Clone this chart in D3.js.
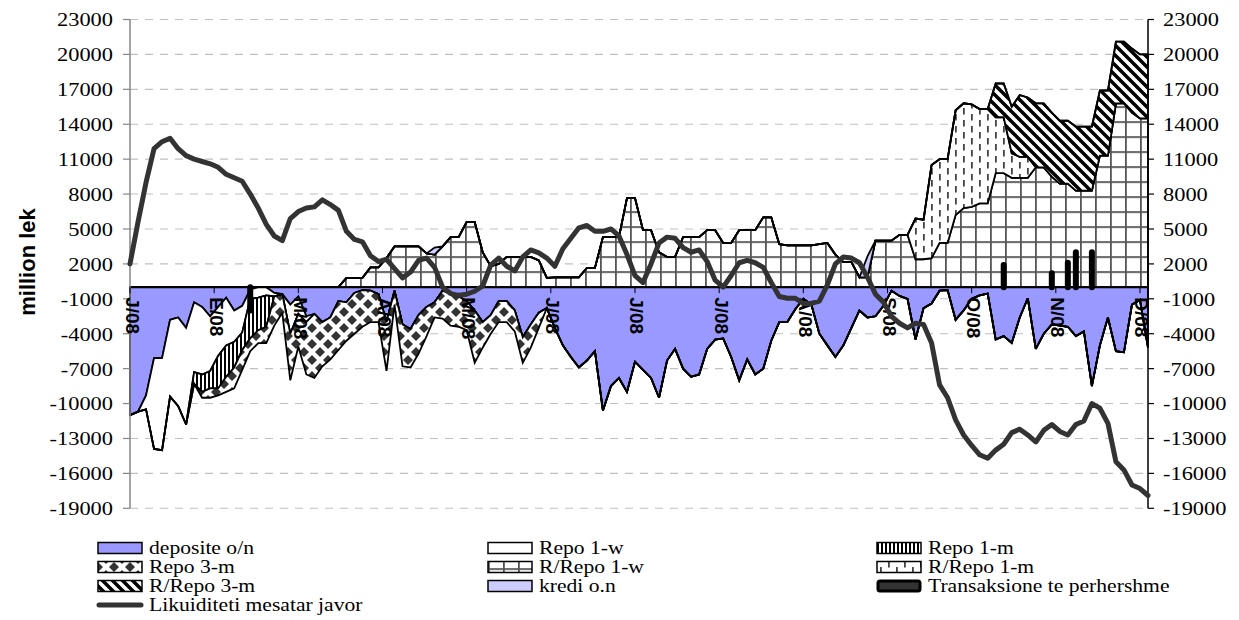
<!DOCTYPE html>
<html><head><meta charset="utf-8">
<script src="https://cdn.jsdelivr.net/npm/d3@7"></script>
<style>html,body{margin:0;padding:0;background:#fff;}svg{display:block;}</style>
</head><body>
<svg id="chart" width="1239" height="620"></svg>
<script>
// ---------------- DATA ----------------
const monthLabels = ["J/08","E/08","M/08","A/08","M/08","J/08","J/08","J/08","A/08","S/08","O/08","N/08","D/08"];
const labelEvery = 21;   // business days between axis labels
const dayStep = 2;       // business days between data points
const yTicks = [23000,20000,17000,14000,11000,8000,5000,2000,-1000,-4000,-7000,-10000,-13000,-16000,-19000];

const deposits = [
-11000,-10700,-9300,-6100,-6100,-2800,-2600,-3500,-1300,-1700,
-2500,-1700,-900,-2000,-1600,-200,0,0,-500,-600,
-1500,-800,-2500,-2300,-3000,-2600,-1200,-1300,-500,-250,
-300,-600,-3000,-300,-3200,-3600,-2400,-1700,-1300,-300,
-600,-800,-1200,-2000,-3000,-2400,-1200,-1200,-2000,-4300,
-3200,-2200,-1800,-3500,-5000,-6000,-6900,-6300,-5500,-10600,
-8500,-7800,-9000,-6400,-7100,-7800,-9500,-6300,-5300,-7000,
-7700,-7500,-5300,-4500,-4400,-6000,-8000,-6200,-7500,-7000,
-4600,-3000,-3000,-1900,-1000,-1500,-4000,-5000,-6000,-5000,
-3500,-2000,-2600,-2500,-1600,-300,-750,-1000,-4500,-1800,
-1400,-300,-250,-2800,-2000,-1000,-700,-550,-4500,-4200,
-4800,-2600,-950,-5300,-4000,-3200,-3300,-3400,-4200,-3800,
-8500,-5000,-2600,-5500,-5600,-1500,-1100,-5200];

const repo1w = [
0,0,-1200,-7800,-7900,-6600,-7600,-8300,-6000,-5800,
-4700,-4200,-4100,-2700,-2300,-800,-900,-700,-300,0,
-2500,-1500,-500,0,0,0,0,0,0,0,
0,0,0,0,0,0,0,0,0,0,
0,0,0,0,0,0,0,0,0,0,
0,0,0,0,0,0,0,0,0,0,
0,0,0,0,0,0,0,0,0,0,
0,0,0,0,0,0,0,0,0,0,
0,0,0,0,0,0,0,0,0,0,
0,0,0,0,0,0,0,0,0,0,
0,0,0,0,0,0,0,0,0,0,
0,0,0,0,0,0,0,0,0,0,
0,0,0,0,0,0,0,0];

const repo1m = [
0,0,0,0,0,0,0,0,-1000,-1500,
-1500,-2800,-2700,-2200,-1500,-3400,-2800,-2700,0,0,
0,0,0,0,0,0,0,0,0,0,
0,0,0,0,0,0,0,0,0,0,
0,0,0,0,0,0,0,0,0,0,
0,0,0,0,0,0,0,0,0,0,
0,0,0,0,0,0,0,0,0,0,
0,0,0,0,0,0,0,0,0,0,
0,0,0,0,0,0,0,0,0,0,
0,0,0,0,0,0,0,0,0,0,
0,0,0,0,0,0,0,0,0,0,
0,0,0,0,0,0,0,0,0,0,
0,0,0,0,0,0,0,0];

const repo3m = [
0,0,0,0,0,0,0,0,0,-500,
-800,-600,-1300,-1800,-1700,-1100,-1100,-1400,-2500,-1600,
-4000,-2800,-4500,-5500,-3800,-3600,-4200,-3300,-3500,-3150,
-2700,-2400,-4200,-1200,-3600,-3300,-3300,-2500,-1300,-2400,
-2700,-2600,-2500,-4500,-2200,-1600,-1800,-1800,-1800,-2200,
-2000,-1300,0,0,0,0,0,0,0,0,
0,0,0,0,0,0,0,0,0,0,
0,0,0,0,0,0,0,0,0,0,
0,0,0,0,0,0,0,0,0,0,
0,0,0,0,0,0,0,0,0,0,
0,0,0,0,0,0,0,0,0,0,
0,0,0,0,0,0,0,0,0,0,
0,0,0,0,0,0,0,0];

const rRepo1w = [
0,0,0,0,0,0,0,0,0,0,
0,0,0,0,0,0,0,0,0,0,
0,0,0,0,0,0,0,800,800,800,
1700,1700,2500,3500,3500,3500,3500,2900,2800,3500,
4300,4300,5600,5600,3000,1800,2000,2600,2600,2600,
2600,2300,800,850,850,850,850,1650,1650,4300,
4300,4300,7650,7650,4900,4900,3000,2600,2600,4300,
4300,4300,4900,4900,3800,3800,4900,4900,4900,6000,
6000,3700,3600,3600,3600,3600,3700,3800,2800,2150,
2150,850,850,4000,4000,4000,4500,4500,2400,2400,
2500,3800,3800,6200,6800,6900,7200,7200,9800,9800,
9400,9400,9400,10300,10300,9500,8900,8900,8300,8300,
8300,11300,11300,15800,15800,15000,14500,14500];

const rRepo1m = [
0,0,0,0,0,0,0,0,0,0,
0,0,0,0,0,0,0,0,0,0,
0,0,0,0,0,0,0,0,0,0,
0,0,0,0,0,0,0,0,0,0,
0,0,0,0,0,0,0,0,0,0,
0,0,0,0,0,0,0,0,0,0,
0,0,0,0,0,0,0,0,0,0,
0,0,0,0,0,0,0,0,0,0,
0,0,0,0,0,0,0,0,0,0,
0,0,0,0,0,0,0,0,3500,3400,
8000,7200,7200,9000,9000,8800,8100,8100,4800,4800,
2100,1800,1800,0,0,0,0,0,0,0,
0,0,0,0,0,0,0,0];

const rRepo3m = [
0,0,0,0,0,0,0,0,0,0,
0,0,0,0,0,0,0,0,0,0,
0,0,0,0,0,0,0,0,0,0,
0,0,0,0,0,0,0,0,0,0,
0,0,0,0,0,0,0,0,0,0,
0,0,0,0,0,0,0,0,0,0,
0,0,0,0,0,0,0,0,0,0,
0,0,0,0,0,0,0,0,0,0,
0,0,0,0,0,0,0,0,0,0,
0,0,0,0,0,0,0,0,0,0,
0,0,0,0,0,0,0,0,2900,2900,
4000,5300,5100,5500,5500,5500,5400,5400,5500,5500,
5500,5600,5600,5300,5300,5500,5500,5500];

const krediON = [
0,0,0,0,0,0,0,0,0,0,
0,0,0,0,0,0,0,0,0,0,
0,0,0,0,0,0,0,0,0,0,
0,0,0,0,0,0,0,0,600,0,
0,0,0,0,0,0,0,0,0,0,
0,0,0,0,0,0,0,0,0,0,
0,0,0,0,0,0,0,0,0,0,
0,0,0,0,0,0,0,0,0,0,
0,0,0,0,0,0,0,0,0,0,
0,0,1800,0,0,0,0,0,0,0,
0,0,0,0,0,0,0,0,0,0,
0,0,0,0,0,0,0,0,0,0,
0,0,0,0,0,0,0,0];

const transaksione = [
0,0,0,0,0,0,0,0,0,0,
0,0,0,0,0,-2000,0,0,0,0,
0,0,0,0,0,0,0,0,0,0,
0,0,0,0,0,0,0,0,0,0,
0,0,0,0,0,0,0,0,0,0,
0,0,0,0,0,0,0,0,0,0,
0,0,0,0,0,0,0,0,0,0,
0,0,0,0,0,0,0,0,0,0,
0,0,0,0,0,0,0,0,0,0,
0,0,0,0,0,0,0,0,0,0,
0,0,0,0,0,0,0,0,0,1900,
0,0,0,0,0,1200,0,2100,3000,0,
3000,0,0,0,0,0,0,0];

const likuiditeti = [
2000,5600,9000,11900,12500,12800,11900,11300,11000,10800,
10600,10300,9700,9400,9100,8000,6800,5400,4400,4000,
5900,6500,6800,6900,7500,7100,6600,4800,4100,3900,
2700,2200,2400,1600,800,1300,2300,2500,1700,0,
-550,-700,-600,-350,100,1900,2500,1800,1400,2600,
3200,2950,2500,1800,3300,4200,5100,5300,4800,4800,
5000,4400,2800,1000,400,2000,3800,4300,4200,3400,
3000,3200,2200,600,0,1000,2100,2300,2100,1700,
400,-800,-950,-950,-1400,-1400,-1200,200,2000,2600,
2500,2100,850,-600,-1300,-2500,-3100,-3500,-3100,-3200,
-4800,-8400,-9500,-11400,-12700,-13600,-14400,-14700,-14000,-13500,
-12500,-12200,-12700,-13300,-12300,-11800,-12400,-12700,-11800,-11500,
-10000,-10400,-11700,-15000,-15700,-17000,-17300,-17900];

const legendLabels = ["deposite o/n","Repo 1-w","Repo 1-m","Repo 3-m","R/Repo 1-w","R/Repo 1-m","R/Repo 3-m","kredi o.n","Transaksione te perhershme","Likuiditeti mesatar javor"];

// ---------------- CHART ----------------
const svg = d3.select("#chart");
const L = 130, R = 1148;
const x = d3.scaleLinear().domain([0, (deposits.length - 1) * dayStep]).range([L, R]);
const y = d3.scaleLinear().domain([-19000, 23000]).range([508.3, 19.5]);

const rows = deposits.map((v, i) => ({
  day: i * dayStep,
  dep: v, r1w: repo1w[i], r1m: repo1m[i], r3m: repo3m[i],
  rr1w: rRepo1w[i], rr1m: rRepo1m[i], rr3m: rRepo3m[i], kredi: krediON[i]
}));

// patterns
const defs = svg.append("defs");
function pat(id, w, h, px, py) {
  const p = defs.append("pattern").attr("id", id).attr("patternUnits", "userSpaceOnUse")
    .attr("width", w).attr("height", h).attr("x", px || 0).attr("y", py || 0);
  p.append("rect").attr("width", w).attr("height", h).attr("fill", "#fff");
  return p;
}
const pV = pat("pV", 4, 4);
pV.append("rect").attr("width", 2).attr("height", 4).attr("fill", "#000");
const pD = pat("pD", 16, 16);
pD.append("path").attr("fill", "#333")
  .attr("d", "M8,3L13,8L8,13L3,8Z M0,-5L5,0L0,5L-5,0Z M16,-5L21,0L16,5L11,0Z M0,11L5,16L0,21L-5,16Z M16,11L21,16L16,21L11,16Z");
const pG = pat("pG", 15, 15, 0, y(0) - 1);
pG.append("rect").attr("width", 1.8).attr("height", 15).attr("fill", "#555");
pG.append("rect").attr("width", 15).attr("height", 1.8).attr("fill", "#555");
const pM = pat("pM", 16, 12);
[[3, 0], [11, 6], [11, -6]].forEach(([a, b]) => pM.append("rect").attr("x", a).attr("y", b).attr("width", 1.8).attr("height", 6.5).attr("fill", "#444"));
const pS = pat("pS", 10, 10);
pS.append("path").attr("d", "M-5,5L5,15M0,0L10,10M5,-5L15,5").attr("stroke", "#000").attr("stroke-width", 3.5);

const fills = {
  dep: "#9999FF", r1w: "#FFFFFF", r1m: "url(#pV)", r3m: "url(#pD)",
  rr1w: "url(#pG)", rr1m: "url(#pM)", rr3m: "url(#pS)", kredi: "#CCCCFF"
};

// gridlines
svg.append("g").selectAll("line").data(yTicks).join("line")
  .attr("x1", L).attr("x2", R).attr("y1", d => y(d)).attr("y2", d => y(d))
  .attr("stroke", "#c0c0c0").attr("stroke-width", 1.1).attr("stroke-dasharray", "8,7");

// stacks
const negStack = d3.stack().keys(["dep", "r1w", "r1m", "r3m"]).offset(d3.stackOffsetNone)(rows);
const posStack = d3.stack().keys(["rr1w", "rr1m", "rr3m", "kredi"]).offset(d3.stackOffsetNone)(rows);
const area = d3.area().x(d => x(d.data.day)).y0(d => y(d[0])).y1(d => y(d[1]));
const gA = svg.append("g");
gA.selectAll("path").data(negStack.concat(posStack)).join("path")
  .attr("d", area).attr("fill", s => fills[s.key])
  .attr("stroke", "#000").attr("stroke-width", 1.8).attr("stroke-linejoin", "miter").attr("stroke-miterlimit", 3);

// baseline
svg.append("line").attr("x1", L).attr("x2", R).attr("y1", y(0)).attr("y2", y(0))
  .attr("stroke", "#000").attr("stroke-width", 2);

// transaksione bars
svg.append("g").selectAll("line").data(rows.map((r, i) => ({ day: r.day, v: transaksione[i] })).filter(d => d.v !== 0))
  .join("line").attr("x1", d => x(d.day)).attr("x2", d => x(d.day))
  .attr("y1", y(0)).attr("y2", d => y(d.v))
  .attr("stroke", "#000").attr("stroke-width", 6).attr("stroke-linecap", "round");

// axes lines
svg.append("line").attr("x1", L).attr("x2", L).attr("y1", y(23000)).attr("y2", y(-19000)).attr("stroke", "#868686").attr("stroke-width", 1.5);
svg.append("line").attr("x1", R).attr("x2", R).attr("y1", y(23000)).attr("y2", y(-19000)).attr("stroke", "#000").attr("stroke-width", 1.5);
svg.append("g").selectAll("line").data(yTicks).join("line")
  .attr("x1", L - 7).attr("x2", L).attr("y1", d => y(d)).attr("y2", d => y(d)).attr("stroke", "#868686").attr("stroke-width", 1.2);
svg.append("g").selectAll("line").data(yTicks).join("line")
  .attr("x1", R).attr("x2", R + 6).attr("y1", d => y(d)).attr("y2", d => y(d)).attr("stroke", "#000").attr("stroke-width", 1.2);

const serif = "'Liberation Serif','Times New Roman',serif";
svg.append("g").selectAll("text").data(yTicks).join("text")
  .attr("transform", d => `translate(113,${y(d)}) scale(1.18,1)`)
  .attr("text-anchor", "end").attr("dominant-baseline", "central")
  .attr("font-family", serif).attr("font-size", 19).attr("fill", "#000").text(d => d);
svg.append("g").selectAll("text").data(yTicks).join("text")
  .attr("transform", d => `translate(1163,${y(d)}) scale(1.18,1)`)
  .attr("text-anchor", "start").attr("dominant-baseline", "central")
  .attr("font-family", serif).attr("font-size", 19).attr("fill", "#000").text(d => d);

// x ticks + labels
const labelDays = monthLabels.map((_, k) => k * labelEvery);
svg.append("g").selectAll("line").data(labelDays).join("line")
  .attr("x1", d => x(d)).attr("x2", d => x(d)).attr("y1", y(0)).attr("y2", y(0) + 6)
  .attr("stroke", "#000").attr("stroke-width", 1);
svg.append("g").selectAll("text").data(monthLabels).join("text")
  .attr("transform", (d, k) => `translate(${x(labelDays[k]) + 2},${y(0) + 10}) rotate(90)`)
  .attr("text-anchor", "start").attr("dominant-baseline", "central")
  .attr("font-family", "'Liberation Sans',Arial,sans-serif").attr("font-weight", "bold")
  .attr("font-size", 19).attr("fill", "#000").text(d => d);

// liquidity line
svg.append("path").datum(likuiditeti)
  .attr("d", d3.line().x((v, i) => x(i * dayStep)).y(v => y(v)))
  .attr("fill", "none").attr("stroke", "#333").attr("stroke-width", 5)
  .attr("stroke-linejoin", "round").attr("stroke-linecap", "round");

// y title
svg.append("text").attr("transform", "translate(27,262) rotate(-90)")
  .attr("text-anchor", "middle").attr("dominant-baseline", "central")
  .attr("font-family", "'Liberation Sans',Arial,sans-serif").attr("font-weight", "bold")
  .attr("font-size", 22).attr("fill", "#000").text("million lek");

// legend
const legFills = ["#9999FF", "#FFFFFF", "url(#pV)", "url(#pD)", "url(#pG)", "url(#pM)", "url(#pS)", "#CCCCFF", "#333", null];
const colX = [98, 488, 877], rowY = [548, 567, 586, 605];
const lg = svg.append("g").selectAll("g").data(legendLabels).join("g")
  .attr("transform", (d, i) => `translate(${colX[i % 3]},${rowY[Math.floor(i / 3)]})`);
lg.each(function (d, i) {
  const g = d3.select(this);
  if (legFills[i] === null) {
    g.append("line").attr("x1", 1).attr("x2", 43).attr("y1", 0).attr("y2", 0)
      .attr("stroke", "#333").attr("stroke-width", 5).attr("stroke-linecap", "round");
  } else if (i === 8) {
    g.append("rect").attr("x", 1).attr("y", -5).attr("width", 42).attr("height", 10).attr("rx", 2)
      .attr("fill", "#333").attr("stroke", "#000").attr("stroke-width", 3);
  } else {
    g.append("rect").attr("x", 0).attr("y", -5.5).attr("width", 44).attr("height", 11)
      .attr("fill", legFills[i]).attr("stroke", "#000").attr("stroke-width", 1.5);
  }
  g.append("text").attr("transform", "translate(51,0) scale(1.2,1)")
    .attr("dominant-baseline", "central").attr("font-family", serif).attr("font-size", 18)
    .attr("fill", "#000").text(d);
});
</script>
</body></html>
